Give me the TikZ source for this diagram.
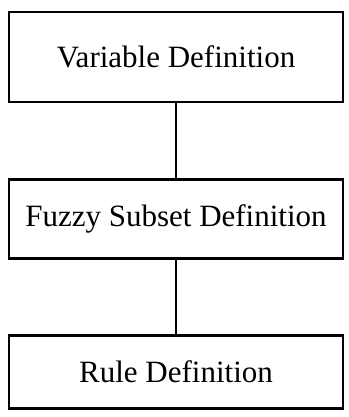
\documentclass[tikz,border=0pt]{standalone}
\usepackage{fontspec}
\setmainfont{Liberation Serif}
\begin{document}
\begin{tikzpicture}
  [x=1pt,y=-1pt,line width=2.2pt,
   every node/.style={draw,rectangle,minimum width=334pt,inner sep=0pt,
     font=\fontsize{31}{36}\selectfont}]

  \useasboundingbox (0,0) rectangle (348,417);

  \node[minimum height=90pt] (var)   at (176,57)  {Variable Definition};
  \node[minimum height=79pt] (fuzzy) at (176,219) {Fuzzy Subset Definition};
  \node[minimum height=73pt] (rule)  at (176,372) {Rule Definition};

\foreach \from/\to in {var/fuzzy,fuzzy/rule}
    \draw (\from) -- (\to);

\end{tikzpicture}
\end{document}
